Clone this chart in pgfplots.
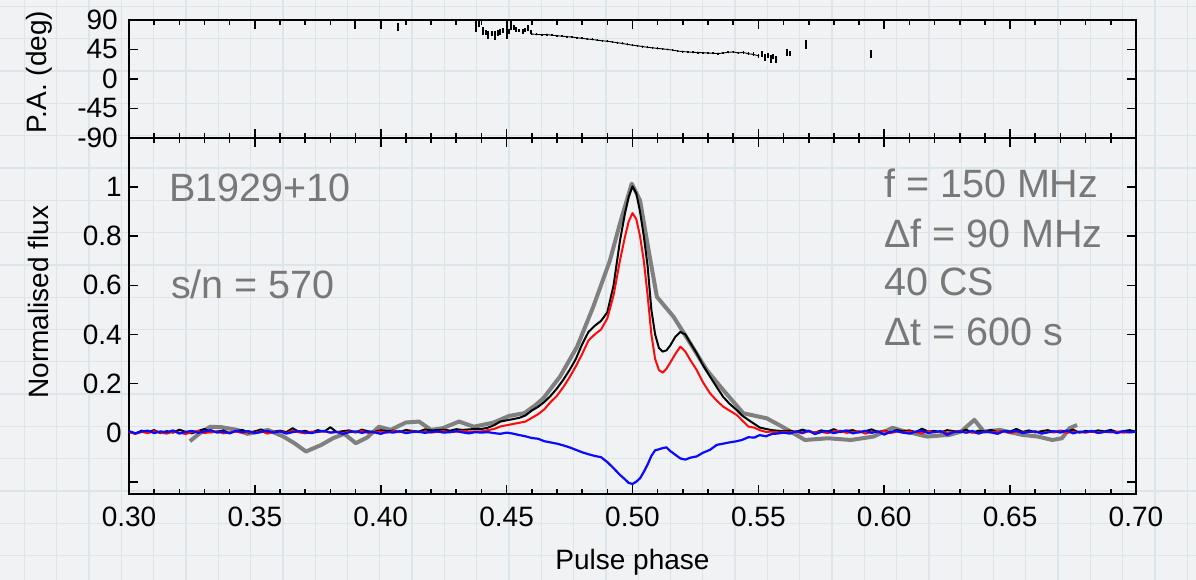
\documentclass[border=0pt]{standalone}
\usepackage{pgfplots}
\pgfplotsset{compat=1.18}
\usepackage{pgfplotstable}
\usepackage{fontspec}
\setmainfont{Liberation Sans}
\definecolor{bgc}{RGB}{240,242,243}
\definecolor{gridc}{RGB}{219,229,234}
\definecolor{txtgray}{RGB}{120,120,120}
\definecolor{lgray}{RGB}{128,128,128}
\definecolor{pblue}{RGB}{10,10,255}
\definecolor{pred}{RGB}{255,10,10}

\pgfplotstableread{
x y
0.3242 -0.035
0.3278 -0.005
0.3323 0.024
0.3368 0.022
0.3430 0.011
0.3470 -0.005
0.3552 0.011
0.3613 -0.016
0.3657 -0.043
0.3703 -0.077
0.3764 -0.050
0.3810 -0.023
0.3855 -0.005
0.3901 -0.043
0.3946 -0.020
0.3993 0.024
0.4040 0.011
0.4099 0.041
0.4152 0.045
0.4200 0.011
0.4246 0.018
0.4311 0.045
0.4370 0.024
0.4448 0.041
0.4510 0.068
0.4570 0.079
0.4616 0.113
0.4646 0.140
0.4712 0.228
0.4780 0.350
0.4844 0.512
0.4910 0.700
0.4950 0.851
0.4997 1.014
0.5030 0.946
0.5064 0.743
0.5097 0.553
0.5163 0.472
0.5230 0.363
0.5295 0.255
0.5360 0.174
0.5440 0.079
0.5534 0.058
0.5595 0.024
0.5685 -0.030
0.5777 -0.023
0.5868 -0.030
0.5958 -0.016
0.6034 0.020
0.6060 0.011
0.6170 -0.016
0.6260 -0.009
0.6305 0.004
0.6358 0.052
0.6396 0.004
0.6460 0.011
0.6547 -0.009
0.6610 -0.016
0.6668 -0.030
0.6706 -0.023
0.6736 0.018
0.6766 0.031
}\graydata

\pgfplotstableread{
x I L V
0.3000 0.005 0.002 0.006
0.3025 -0.004 -0.005 -0.003
0.3050 0.008 0.003 0.004
0.3075 0.002 -0.002 0.008
0.3100 0.010 0.006 -0.002
0.3125 -0.002 0.000 0.005
0.3150 0.006 -0.004 0.001
0.3175 0.000 0.004 0.009
0.3200 0.012 0.001 -0.004
0.3225 0.003 -0.006 0.003
0.3250 -0.003 0.003 0.007
0.3275 0.007 0.007 -0.001
0.3300 0.015 -0.002 0.005
0.3325 0.001 0.002 0.010
0.3350 0.004 0.005 0.000
0.3375 0.009 -0.003 0.004
0.3400 -0.002 0.001 -0.003
0.3425 0.006 0.004 0.008
0.3450 0.011 -0.001 0.002
0.3475 0.000 0.003 0.006
0.3500 0.005 0.000 -0.002
0.3525 0.013 0.006 0.003
0.3550 -0.001 -0.004 0.007
0.3575 0.004 0.002 0.000
0.3600 0.008 0.005 0.005
0.3625 0.002 -0.002 -0.004
0.3650 0.018 0.008 0.002
0.3675 0.003 0.001 0.006
0.3700 0.007 -0.003 0.001
0.3725 0.000 0.004 -0.002
0.3750 0.010 0.002 0.004
0.3775 0.004 0.006 0.007
0.3800 0.022 0.000 0.000
0.3825 0.002 0.003 0.003
0.3850 0.006 -0.002 -0.006
0.3875 0.009 0.005 0.002
0.3900 0.001 0.001 0.005
0.3925 0.012 0.007 -0.001
0.3950 0.005 -0.001 0.004
0.3975 0.003 0.002 0.001
0.4000 0.010 0.004 -0.005
0.4025 0.006 0.000 0.003
0.4050 0.008 0.006 0.000
0.4075 0.002 0.003 0.006
0.4100 0.011 0.001 -0.002
0.4125 0.007 0.005 0.002
0.4150 0.004 0.002 0.004
0.4175 0.013 0.004 -0.001
0.4200 0.009 0.000 0.003
0.4225 0.010 0.003 0.005
0.4250 0.012 0.006 0.000
0.4275 0.008 0.002 0.002
0.4300 0.014 0.004 0.006
0.4325 0.011 0.007 0.001
0.4350 0.013 0.003 -0.003
0.4375 0.015 0.005 0.002
0.4400 0.015 0.005 0.000
0.4425 0.020 0.010 0.002
0.4450 0.030 0.015 -0.002
0.4475 0.045 0.025 -0.005
0.4500 0.050 0.030 0.000
0.4525 0.055 0.035 -0.004
0.4550 0.060 0.040 -0.010
0.4575 0.070 0.045 -0.015
0.4600 0.090 0.060 -0.022
0.4625 0.105 0.075 -0.025
0.4650 0.125 0.095 -0.035
0.4675 0.150 0.125 -0.040
0.4700 0.180 0.150 -0.045
0.4725 0.215 0.185 -0.052
0.4750 0.255 0.225 -0.060
0.4775 0.300 0.270 -0.070
0.4800 0.360 0.320 -0.080
0.4825 0.410 0.375 -0.088
0.4850 0.435 0.400 -0.095
0.4875 0.455 0.420 -0.100
0.4900 0.490 0.465 -0.120
0.4925 0.600 0.560 -0.145
0.4950 0.780 0.700 -0.172
0.4970 0.892 0.797 -0.190
0.4985 0.960 0.860 -0.205
0.5000 1.003 0.894 -0.209
0.5015 0.975 0.870 -0.200
0.5030 0.900 0.800 -0.186
0.5045 0.800 0.700 -0.160
0.5060 0.680 0.560 -0.130
0.5075 0.500 0.400 -0.095
0.5090 0.400 0.300 -0.072
0.5105 0.345 0.255 -0.068
0.5120 0.330 0.244 -0.063
0.5135 0.335 0.260 -0.060
0.5150 0.355 0.285 -0.075
0.5170 0.390 0.320 -0.090
0.5190 0.410 0.350 -0.105
0.5210 0.400 0.330 -0.110
0.5230 0.365 0.295 -0.102
0.5255 0.323 0.255 -0.097
0.5280 0.275 0.205 -0.082
0.5308 0.228 0.160 -0.070
0.5335 0.185 0.130 -0.050
0.5360 0.146 0.106 -0.045
0.5385 0.118 0.090 -0.040
0.5414 0.092 0.072 -0.035
0.5435 0.070 0.050 -0.030
0.5460 0.052 0.025 -0.019
0.5485 0.035 0.020 -0.020
0.5505 0.021 0.010 -0.010
0.5530 0.015 0.003 -0.015
0.5555 0.010 0.004 -0.005
0.5575 0.008 0.000 -0.004
0.5600 0.006 0.002 0.000
0.5625 0.008 0.001 -0.004
0.5650 0.003 0.004 0.005
0.5675 0.012 -0.003 0.000
0.5700 0.005 0.006 0.008
0.5725 0.000 0.000 -0.006
0.5750 0.009 0.003 0.003
0.5775 0.004 -0.002 0.006
0.5800 0.014 0.005 -0.002
0.5825 0.002 0.008 0.004
0.5850 0.007 -0.001 0.009
0.5875 0.010 0.002 -0.003
0.5900 0.001 0.006 0.002
0.5925 0.006 -0.004 0.007
0.5950 0.013 0.003 -0.001
0.5975 0.003 0.001 0.005
0.6000 0.008 0.007 -0.008
0.6025 0.000 -0.002 0.003
0.6050 0.011 0.004 0.006
0.6075 0.005 0.000 0.000
0.6100 0.009 0.005 -0.004
0.6125 0.002 0.002 0.004
0.6150 0.016 -0.003 0.008
0.6175 0.004 0.006 -0.002
0.6200 0.007 0.001 0.003
0.6225 0.001 0.004 0.006
0.6250 0.010 -0.001 -0.009
0.6275 0.006 0.003 0.002
0.6300 0.003 0.007 0.005
0.6325 0.012 0.000 0.000
0.6350 0.000 0.002 0.007
0.6375 0.008 -0.004 -0.003
0.6400 0.005 0.005 0.004
0.6425 0.011 0.001 0.001
0.6450 0.002 0.003 -0.005
0.6475 0.007 0.006 0.006
0.6500 0.004 -0.002 0.002
0.6525 0.015 0.004 0.008
0.6550 0.003 0.000 -0.002
0.6575 0.009 0.002 0.003
0.6600 0.001 0.005 0.005
0.6625 0.006 -0.003 -0.004
0.6650 0.010 0.003 0.001
0.6675 0.002 0.001 0.006
0.6700 0.008 0.006 0.000
0.6725 0.004 -0.001 0.009
0.6750 0.012 0.004 -0.003
0.6775 0.000 0.002 0.004
0.6800 0.007 0.000 0.002
0.6825 0.003 0.005 0.007
0.6850 0.009 -0.002 -0.001
0.6875 0.005 0.003 0.003
0.6900 0.011 0.001 0.005
0.6925 0.002 0.004 -0.002
0.6950 0.006 0.000 0.006
0.6975 0.010 0.002 0.001
0.7000 0.004 0.003 0.004
}\fluxdata

\pgfplotstableread{
x y e
0.3898 82 6
0.4068 79 6
0.4378 80 8
0.4390 84 5
0.4407 73 6
0.4420 71 4
0.4427 67 6
0.4440 69 4
0.4453 66 7
0.4465 70 4
0.4473 72 5
0.4485 74 4
0.4500 75 14
0.4510 72 4
0.4519 81 7
0.4530 78 4
0.4539 76 4
0.4550 74 3
0.4566 73 4
0.4575 75 3
0.4586 78 5
0.4595 72 3
0.5515 38 4
0.5525 33 5
0.5540 36 4
0.5550 31 6
0.5560 34 4
0.5572 30 5
0.5612 40 5
0.5625 39 4
0.5691 52 7
0.5949 38 6
}\padataA

\pgfplotstableread{
x y e
0.460 68.5 1.5
0.462 68.0 1.5
0.464 67.5 1.5
0.466 67.8 1.5
0.468 66.8 1.5
0.470 66.0 1.5
0.472 65.3 1.5
0.474 64.6 1.5
0.476 64.0 1.5
0.478 62.8 1.5
0.480 62.0 1.5
0.482 61.0 1.5
0.484 60.3 1.5
0.486 59.2 1.5
0.488 58.3 1.5
0.490 57.6 1.5
0.492 56.5 1.5
0.494 55.3 1.5
0.496 54.2 1.5
0.498 52.8 1.5
0.500 51.6 1.5
0.502 50.6 1.5
0.504 49.5 1.5
0.506 48.3 1.5
0.508 47.5 1.5
0.510 46.6 1.5
0.512 45.9 1.5
0.514 45.0 1.5
0.516 44.0 1.5
0.518 42.6 1.5
0.520 41.8 1.5
0.522 41.3 1.5
0.524 40.6 1.5
0.526 40.4 1.5
0.528 40.0 1.5
0.530 39.6 1.5
0.532 39.2 1.5
0.534 38.8 1.5
0.536 39.7 1.5
0.538 40.6 1.5
0.540 41.3 2
0.542 39.8 2
0.544 40.5 2
0.546 38.6 2.5
0.548 37.5 3
0.550 35.5 3
}\padataB

\pgfplotsset{
  panel/.style={
    scale only axis, width=1007pt,
    xmin=0.3, xmax=0.7,
    axis line style={line width=2.4pt, black},
    tick align=inside,
    major tick length=9pt, minor tick length=5pt,
    tick style={line width=1.6pt, black},
    xtick={0.3,0.35,0.4,0.45,0.5,0.55,0.6,0.65,0.7},
    minor x tick num=4,
    tick label style={font=\fontsize{28}{30}\selectfont},
  }
}

\begin{document}
\begin{tikzpicture}[x=1pt,y=1pt]
\useasboundingbox (0pt,0pt) rectangle (1196pt,580pt);
\fill[bgc] (0pt,0pt) rectangle (1196pt,580pt);
\foreach \i in {0,...,36} {\draw[gridc, line width=1.3pt] ({(24.5+32.3*\i)*1pt},0pt) -- ({(24.5+32.3*\i)*1pt},580pt);}
\foreach \j in {0,...,17} {\draw[gridc, line width=1.3pt] (0pt,{(573.5-32.3*\j)*1pt}) -- (1196pt,{(573.5-32.3*\j)*1pt});}

\begin{axis}[panel, at={(129pt,560pt)}, anchor=north west, height=118pt,
  ymin=-90, ymax=90,
  ytick={-90,-45,0,45,90},
  yticklabels={-90,-45,0,45,90},
  xticklabels={},
  yticklabel style={anchor=east, inner sep=0pt, xshift=-11pt},
  ylabel={P.A. (deg)},
  every axis y label/.style={at={(rel axis cs:-0.0894,0.56)}, rotate=90, anchor=center, font=\fontsize{28}{30}\selectfont},
]
\addplot[black, line width=0.9pt] table[x=x, y=y] {\padataB};
\addplot[black, only marks, mark=*, mark size=0.5pt,
  error bars/.cd, y dir=both, y explicit, error mark=none,
  error bar style={line width=2pt, black}]
  table[x=x, y=y, y error=e] {\padataA};
\addplot[black, only marks, mark=*, mark size=0.7pt,
  error bars/.cd, y dir=both, y explicit, error mark=none,
  error bar style={line width=1.3pt, black}]
  table[x=x, y=y, y error=e] {\padataB};
\end{axis}

\begin{axis}[panel, at={(129pt,442pt)}, anchor=north west, height=356pt,
  ymin=-0.25, ymax=1.2,
  ytick={-0.2,0,0.2,0.4,0.6,0.8,1},
  yticklabels={,0,0.2,0.4,0.6,0.8,1},
  xticklabels={0.30,0.35,0.40,0.45,0.50,0.55,0.60,0.65,0.70},
  yticklabel style={anchor=east, inner sep=0pt, xshift=-7pt},
  xticklabel style={anchor=center, inner sep=0pt, yshift=-23pt},
  ylabel={Normalised flux},
  every axis y label/.style={at={(rel axis cs:-0.0894,0.539)}, rotate=90, anchor=center, font=\fontsize{28}{30}\selectfont},
  xlabel={Pulse phase},
  every axis x label/.style={at={(rel axis cs:0.5,-0.191)}, anchor=center, font=\fontsize{28}{30}\selectfont},
]
\addplot[lgray, line width=4pt, line join=round] table[x=x, y=y] {\graydata};
\addplot[black, line width=2pt, line join=round] table[x=x, y=I] {\fluxdata};
\addplot[pred, line width=2pt, line join=round] table[x=x, y=L] {\fluxdata};
\addplot[pblue, line width=2.2pt, line join=round] table[x=x, y=V] {\fluxdata};
\end{axis}

\begin{scope}[every node/.style={anchor=base west, inner sep=0pt, text=txtgray, font=\fontsize{39.5}{46}\selectfont}]
\node at (169pt,378pt) {B1929+10};
\node at (171pt,281pt) {s/n = 570};
\node at (884pt,382pt) {f = 150 MHz};
\node at (884pt,332pt) {Δf = 90 MHz};
\node at (884pt,284pt) {40 CS};
\node at (884pt,234pt) {Δt = 600 s};
\end{scope}
\end{tikzpicture}
\end{document}
